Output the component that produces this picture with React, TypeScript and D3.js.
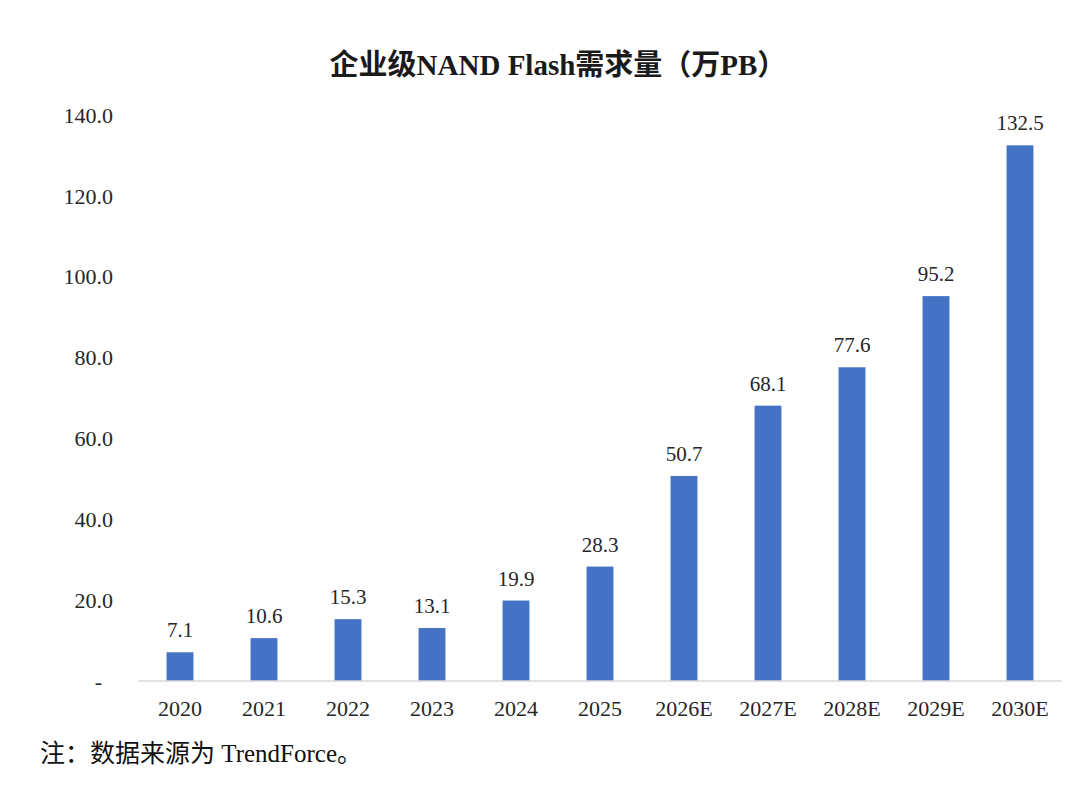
import { useRef, useEffect } from "react";
import * as d3 from "d3";

const years = ["2020", "2021", "2022", "2023", "2024", "2025", "2026E", "2027E", "2028E", "2029E", "2030E"];
const demand = [7.1, 10.6, 15.3, 13.1, 19.9, 28.3, 50.7, 68.1, 77.6, 95.2, 132.5];
const yTicks = [0, 20, 40, 60, 80, 100, 120, 140];

const serif = "'Liberation Serif', 'Times New Roman', 'Noto Sans CJK SC', serif";

const App = () => {
  const svgRef = useRef<SVGSVGElement>(null);

  useEffect(() => {
    const width = 1080;
    const height = 786;
    const margin = { top: 115, right: 18, bottom: 105, left: 138 };

    const root = d3.select(svgRef.current);
    root.selectAll("*").remove();
    root.attr("width", width).attr("height", height).attr("viewBox", `0 0 ${width} ${height}`);

    root.append("rect").attr("width", width).attr("height", height).attr("fill", "#ffffff");

    const x = d3
      .scaleBand()
      .domain(years)
      .range([margin.left, width - margin.right])
      .paddingInner(0.68)
      .paddingOuter(0.34);

    const y = d3
      .scaleLinear()
      .domain([0, 140])
      .range([height - margin.bottom, margin.top]);

    // bars
    root
      .append("g")
      .selectAll("rect")
      .data(demand)
      .join("rect")
      .attr("x", (_, i) => x(years[i]) || 0)
      .attr("y", (d) => y(d))
      .attr("width", x.bandwidth())
      .attr("height", (d) => y(0) - y(d))
      .attr("fill", "#4472C4");

    // value labels
    root
      .append("g")
      .selectAll("text")
      .data(demand)
      .join("text")
      .attr("x", (_, i) => (x(years[i]) || 0) + x.bandwidth() / 2)
      .attr("y", (d) => y(d) - 15)
      .attr("text-anchor", "middle")
      .attr("font-family", serif)
      .attr("font-size", 21)
      .attr("fill", "#262626")
      .text((d) => d.toFixed(1));

    // x axis line
    root
      .append("line")
      .attr("x1", margin.left)
      .attr("x2", width - margin.right)
      .attr("y1", y(0))
      .attr("y2", y(0))
      .attr("stroke", "#d9d9d9")
      .attr("stroke-width", 1.5);

    // x labels
    root
      .append("g")
      .selectAll("text")
      .data(years)
      .join("text")
      .attr("x", (d) => (x(d) || 0) + x.bandwidth() / 2)
      .attr("y", y(0) + 35)
      .attr("text-anchor", "middle")
      .attr("font-family", serif)
      .attr("font-size", 22)
      .attr("fill", "#262626")
      .text((d) => d);

    // y tick labels
    root
      .append("g")
      .selectAll("text")
      .data(yTicks)
      .join("text")
      .attr("x", (d) => (d === 0 ? 102 : 113))
      .attr("y", (d) => y(d))
      .attr("dy", "0.35em")
      .attr("text-anchor", "end")
      .attr("font-family", serif)
      .attr("font-size", 22)
      .attr("fill", "#262626")
      .text((d) => (d === 0 ? "-" : d.toFixed(1)));

    // title
    root
      .append("text")
      .attr("x", 558)
      .attr("y", 75)
      .attr("text-anchor", "middle")
      .attr("font-family", serif)
      .attr("font-size", 29)
      .attr("font-weight", "bold")
      .attr("fill", "#1a1a1a")
      .text("企业级NAND Flash需求量（万PB）");

    // note
    root
      .append("text")
      .attr("x", 40)
      .attr("y", 762)
      .attr("font-family", serif)
      .attr("font-size", 25)
      .attr("fill", "#111111")
      .text("注：数据来源为 TrendForce。");
  }, []);

  return (
    <div style={{ margin: -8 }}>
      <svg ref={svgRef} style={{ display: "block" }}></svg>
    </div>
  );
};

export default App;
